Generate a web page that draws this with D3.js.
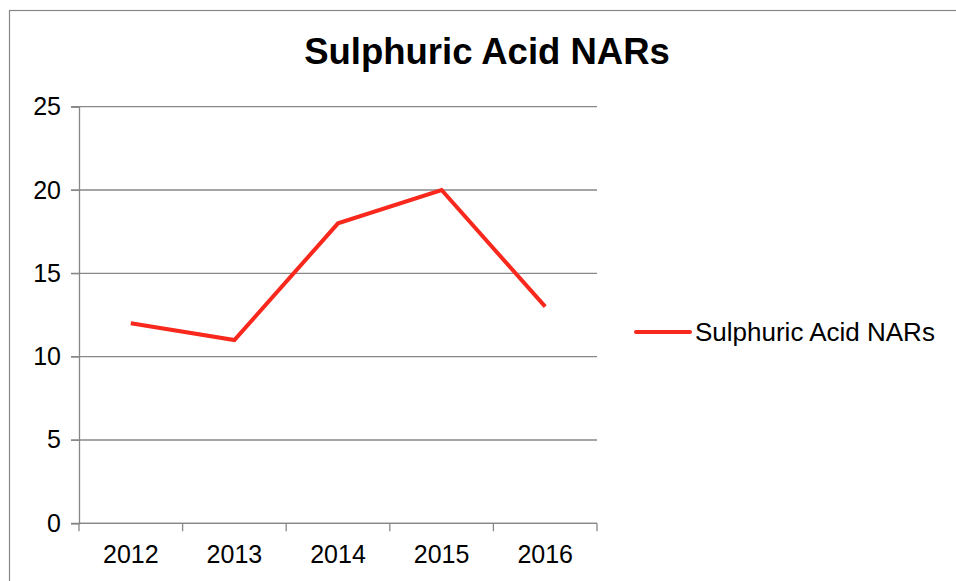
<!DOCTYPE html>
<html>
<head>
<meta charset="utf-8">
<script src="https://cdn.jsdelivr.net/npm/d3@7"></script>
<style>
  body { margin: 0; background: #fff; }
  svg { display: block; font-family: "Liberation Sans", Arial, sans-serif; }
</style>
</head>
<body>
<div id="chart"></div>
<script>
// data
var years = ["2012", "2013", "2014", "2015", "2016"];
var values = [12, 11, 18, 20, 13];
var yTicks = [0, 5, 10, 15, 20, 25];
var seriesName = "Sulphuric Acid NARs";
var titleText = "Sulphuric Acid NARs";

var W = 956, H = 581;
var margin = {top: 106.7, right: 359, bottom: 57.7, left: 79};
var plotW = W - margin.left - margin.right,
    plotH = H - margin.top - margin.bottom;

var gridColor = "#878787";
var lineColor = "#f8281c";

var svg = d3.select("#chart").append("svg")
    .attr("width", W)
    .attr("height", H);

// outer chart border (runs off right and bottom)
svg.append("rect")
    .attr("x", 9.5)
    .attr("y", 10.5)
    .attr("width", 960)
    .attr("height", 600)
    .attr("fill", "none")
    .attr("stroke", gridColor)
    .attr("stroke-width", 1.2);

svg.append("text")
    .attr("x", 487)
    .attr("y", 64)
    .attr("text-anchor", "middle")
    .attr("font-weight", "bold")
    .attr("font-size", "36.5px")
    .text(titleText);

var g = svg.append("g")
    .attr("transform", "translate(" + margin.left + "," + margin.top + ")");

var x = d3.scaleBand()
    .domain(years)
    .range([0, plotW])
    .padding(0);

var y = d3.scaleLinear()
    .domain([0, 25])
    .range([plotH, 0]);

// gridlines with the little outside tick
g.selectAll(".grid")
    .data(yTicks)
    .enter().append("line")
    .attr("class", "grid")
    .attr("x1", -8)
    .attr("x2", plotW)
    .attr("y1", function(d) { return y(d); })
    .attr("y2", function(d) { return y(d); })
    .attr("stroke", gridColor)
    .attr("stroke-width", 1.3);

// y axis
var yAxis = g.append("g")
    .call(d3.axisLeft(y).tickValues(yTicks).tickSize(8).tickPadding(10));
yAxis.select(".domain").attr("stroke", gridColor).attr("stroke-width", 1.3);
yAxis.selectAll(".tick line").attr("stroke", gridColor);
yAxis.selectAll("text")
    .attr("font-size", "25px")
    .attr("fill", "#000")
    .attr("font-family", "Liberation Sans, Arial, sans-serif");

// x axis: labels centred in bands, ticks on band edges
var xAxis = g.append("g")
    .attr("transform", "translate(0," + plotH + ")")
    .call(d3.axisBottom(x).tickSize(0).tickPadding(22));
xAxis.select(".domain").remove();
xAxis.selectAll("text")
    .attr("font-size", "25px")
    .attr("fill", "#000")
    .attr("font-family", "Liberation Sans, Arial, sans-serif");

var edges = years.map(function(d) { return x(d); }).concat([x.range()[1]]);
g.append("line")
    .attr("x1", 0).attr("x2", plotW)
    .attr("y1", plotH).attr("y2", plotH)
    .attr("stroke", gridColor)
    .attr("stroke-width", 1.3);
g.selectAll(".xtick")
    .data(edges)
    .enter().append("line")
    .attr("class", "xtick")
    .attr("x1", function(d) { return d; })
    .attr("x2", function(d) { return d; })
    .attr("y1", plotH)
    .attr("y2", plotH + 8)
    .attr("stroke", gridColor)
    .attr("stroke-width", 1.3);

// series line
var line = d3.line()
    .x(function(d, i) { return x(years[i]) + x.bandwidth() / 2; })
    .y(function(d) { return y(d); });

g.append("path")
    .datum(values)
    .attr("d", line)
    .attr("fill", "none")
    .attr("stroke", lineColor)
    .attr("stroke-width", 4)
    .attr("stroke-linejoin", "miter");

// legend
var legend = svg.append("g")
    .attr("transform", "translate(636,332)");
legend.append("line")
    .attr("x1", 0).attr("x2", 54)
    .attr("y1", 0).attr("y2", 0)
    .attr("stroke", lineColor)
    .attr("stroke-width", 4)
    .attr("stroke-linecap", "round");
legend.append("text")
    .attr("x", 59)
    .attr("y", 9)
    .attr("font-size", "26px")
    .text(seriesName);
</script>
</body>
</html>
